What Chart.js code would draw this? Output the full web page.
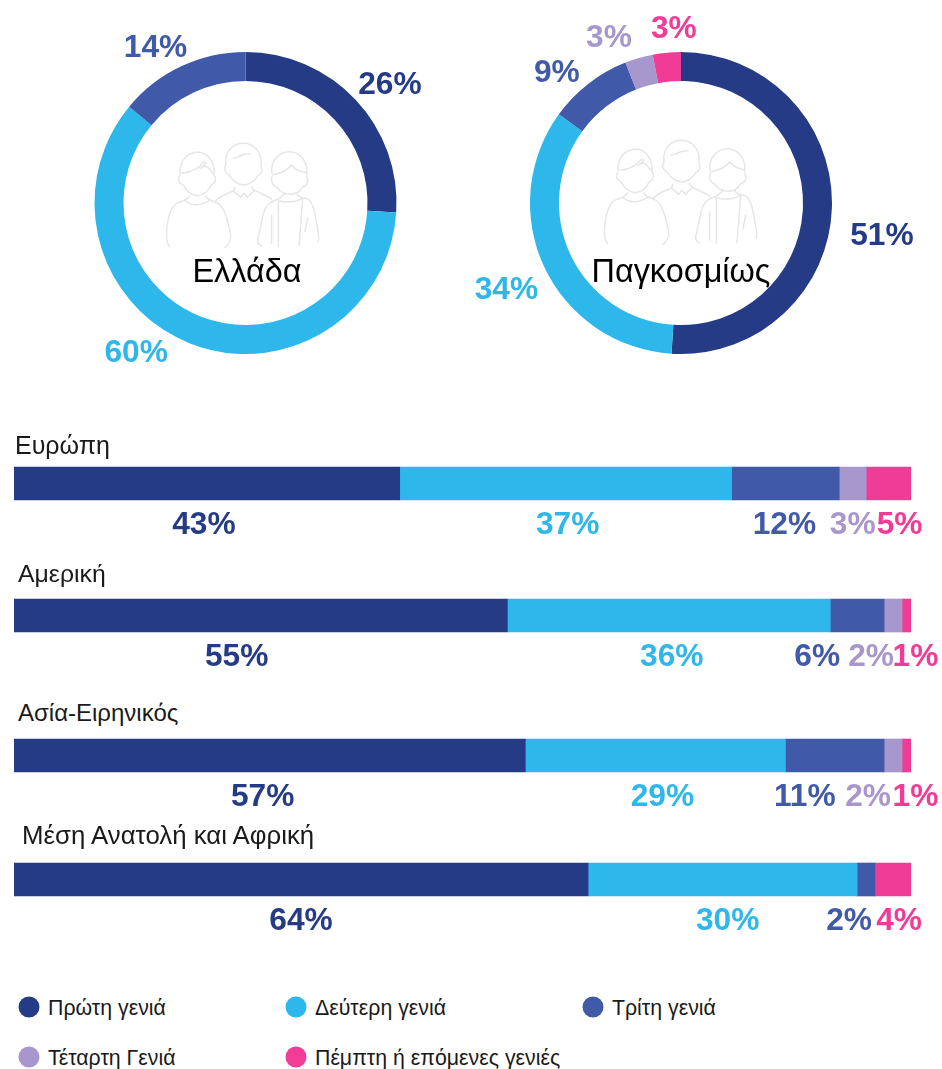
<!DOCTYPE html>
<html lang="el">
<head>
<meta charset="utf-8">
<title>Γενιές</title>
<script src="https://cdn.jsdelivr.net/npm/chart.js@4"></script>
<style>
html,body{margin:0;padding:0;background:#fff}
body{position:relative;width:942px;height:1069px;overflow:hidden;font-family:"Liberation Sans",Arial,sans-serif;color:#111}
canvas{position:absolute;display:block}
.t{position:absolute;white-space:nowrap;line-height:1;transform:translateY(-50%)}
.region{color:#1a1a1a}
.center{font-size:32.4px;color:#000;transform:translate(-50%,-50%)}
.leg{font-size:21.3px;color:#1a1a1a}
.dot{position:absolute;width:21px;height:21px;border-radius:50%;transform:translate(-50%,-50%)}
svg.icon{position:absolute;width:190px;height:170px;fill:none;stroke:#e6e6e6;stroke-width:4.5;stroke-linecap:round;stroke-linejoin:round}
</style>
</head>
<body>
<svg width="0" height="0" style="position:absolute">
<symbol id="people" viewBox="0 0 570 510">
<path d="M90 130C88 85 120 67 142 67C170 67 195 90 192 135M90 135C82 145 85 160 100 165M192 135C200 145 197 160 183 165M100 165C105 180 125 197 142 197C160 197 178 180 183 165M95 130C120 128 145 118 162 95M150 115C158 112 165 105 168 98M165 110C172 108 178 118 190 130M118 198C115 208 100 212 85 218C65 225 55 250 50 300C48 325 50 340 58 350M105 212C125 228 150 228 178 212M168 198C170 208 185 212 200 218C225 228 235 280 242 315C243 330 235 345 225 352"/>
<path d="M228 105C222 60 255 40 280 40C310 40 338 65 333 110M228 105C220 115 225 130 238 135M333 110C340 120 335 132 323 137M238 135C245 150 265 165 280 165C298 165 315 152 323 137M250 85C265 83 272 80 282 72M268 78C285 72 295 70 300 72M255 172L250 183L272 202L282 190L292 202L312 182L305 170M197 212C215 195 235 190 252 182M312 180C330 190 350 195 365 208"/>
<path d="M366 130C360 90 390 65 418 65C450 65 475 95 470 135M366 140C362 150 368 170 382 172M470 140C478 150 472 168 458 170M382 172C388 185 405 193 420 193C440 193 452 182 458 170M368 135C390 130 415 118 425 105C435 118 450 125 468 128M405 190L385 208C360 215 345 225 338 260C332 290 328 310 323 330C322 340 328 345 335 348M385 212C410 218 435 218 458 205M440 190C445 200 455 205 470 205C490 215 495 250 500 280C505 305 508 320 505 335M385 212L385 348M365 255L365 340M458 205L447 348M473 265L465 305"/>
</symbol>
</svg>

<svg class="icon" style="left:150px;top:130px"><use href="#people" width="190" height="170"/></svg>
<svg class="icon" style="left:588px;top:127px"><use href="#people" width="190" height="170"/></svg>

<canvas id="d0" width="491" height="406" style="left:0;top:0"></canvas>
<canvas id="d1" width="482" height="406" style="left:440px;top:0"></canvas>
<div class="t center" style="left:247px;top:271px">Ελλάδα</div>
<div class="t center" style="left:681px;top:271px">Παγκοσμίως</div>

<canvas id="b0" width="942" height="100" style="left:0;top:458px"></canvas>
<canvas id="b1" width="942" height="100" style="left:0;top:590px"></canvas>
<canvas id="b2" width="942" height="100" style="left:0;top:730px"></canvas>
<canvas id="b3" width="942" height="100" style="left:0;top:854px"></canvas>

<div id="labels"></div>

<script>
// ---- data ----
const seriesNames = ["Πρώτη γενιά","Δεύτερη γενιά","Τρίτη γενιά","Τέταρτη Γενιά","Πέμπτη ή επόμενες γενιές"];
const seriesColors = ["#253B85","#2EB7EB","#4059A8","#A797CC","#F03C97"];

const greeceValues = [26,60,14];
const greeceColors = ["#253B85","#2EB7EB","#4059A8"];
const globalValues = [51,34,9,3,3];

const regionNames = ["Ευρώπη","Αμερική","Ασία-Ειρηνικός","Μέση Ανατολή και Αφρική"];
const europe = [43,37,12,3,5];
const americas = [55,36,6,2,1];
const asiaPacific = [57,29,11,2,1];
const middleEastAfrica = [64,30,2,0,4];

// ---- layout only ----
const greeceNudge = [[11,5],[-42,-22],[-12,8]];
const globalNudge = [[18,25],[-9,7],[-12,12],[-21,8],[10,6]];
const rowNudge = [
  [-3,2,-1,0,11],
  [-24,3,-40,-22,9],
  [-7,7,-30,-25,9],
  [0,5,-17,0,6]
];
const rowTitlePos = [[15,445],[18,574],[18,713],[22,836]];
const rowTitleSize = [25,24.8,24,25.8];
const legendPos = [[29,1007],[296,1007],[593,1007],[29,1057],[296,1057]];

Chart.defaults.animation = false;
Chart.defaults.font.family = '"Liberation Sans",Arial,sans-serif';

function drawLabel(ctx,text,x,y,color){
  ctx.save();
  ctx.font = 'bold 31.7px "Liberation Sans",Arial,sans-serif';
  ctx.fillStyle = color;
  ctx.textAlign = 'center';
  ctx.textBaseline = 'middle';
  ctx.fillText(text,x,y+2.5);
  ctx.restore();
}

function donut(id,values,colors,nudge){
  new Chart(document.getElementById(id),{
    type:'doughnut',
    data:{labels:seriesNames.slice(0,values.length),datasets:[{data:values,backgroundColor:colors,borderWidth:0}]},
    options:{
      responsive:false,
      radius:151,
      cutout:'80.8%',
      layout:{padding:0},
      plugins:{legend:{display:false},tooltip:{enabled:false}}
    },
    plugins:[{
      id:'donutLabels',
      afterDatasetsDraw(chart){
        chart.getDatasetMeta(0).data.forEach((arc,i)=>{
          const mid=(arc.startAngle+arc.endAngle)/2;
          const r=arc.outerRadius+32;
          drawLabel(chart.ctx,values[i]+'%',
            arc.x+Math.cos(mid)*r+nudge[i][0],
            arc.y+Math.sin(mid)*r+nudge[i][1],colors[i]);
        });
      }
    }]
  });
}
donut('d0',greeceValues,greeceColors,greeceNudge);
donut('d1',globalValues,seriesColors,globalNudge);

function row(id,values,nudge){
  new Chart(document.getElementById(id),{
    type:'bar',
    data:{
      labels:[''],
      datasets:values.map((v,i)=>({label:seriesNames[i],data:[v],backgroundColor:seriesColors[i],borderWidth:0,barThickness:33,stack:'s'}))
    },
    options:{
      indexAxis:'y',
      responsive:false,
      layout:{padding:{left:14,right:31,top:0,bottom:49}},
      scales:{
        x:{display:false,stacked:true,min:0,max:100},
        y:{display:false,stacked:true}
      },
      plugins:{legend:{display:false},tooltip:{enabled:false}}
    },
    plugins:[{
      id:'rowLabels',
      afterDatasetsDraw(chart){
        const xs=chart.scales.x;
        let acc=0;
        values.forEach((v,i)=>{
          if(v>0){
            const bar=chart.getDatasetMeta(i).data[0];
            drawLabel(chart.ctx,v+'%',xs.getPixelForValue(acc+v/2)+nudge[i],bar.y+39,seriesColors[i]);
          }
          acc+=v;
        });
      }
    }]
  });
}
[europe,americas,asiaPacific,middleEastAfrica].forEach((v,i)=>row('b'+i,v,rowNudge[i]));

const host=document.getElementById('labels');
regionNames.forEach((n,i)=>{
  const d=document.createElement('div');
  d.className='t region';d.textContent=n;
  d.style.fontSize=rowTitleSize[i]+'px';
  d.style.left=rowTitlePos[i][0]+'px';d.style.top=rowTitlePos[i][1]+'px';
  host.appendChild(d);
});
seriesNames.forEach((n,i)=>{
  const dot=document.createElement('div');
  dot.className='dot';dot.style.background=seriesColors[i];
  dot.style.left=legendPos[i][0]+'px';dot.style.top=legendPos[i][1]+'px';
  host.appendChild(dot);
  const d=document.createElement('div');
  d.className='t leg';d.textContent=n;
  d.style.left=(legendPos[i][0]+19)+'px';d.style.top=(legendPos[i][1]+2)+'px';
  host.appendChild(d);
});
</script>
</body>
</html>
